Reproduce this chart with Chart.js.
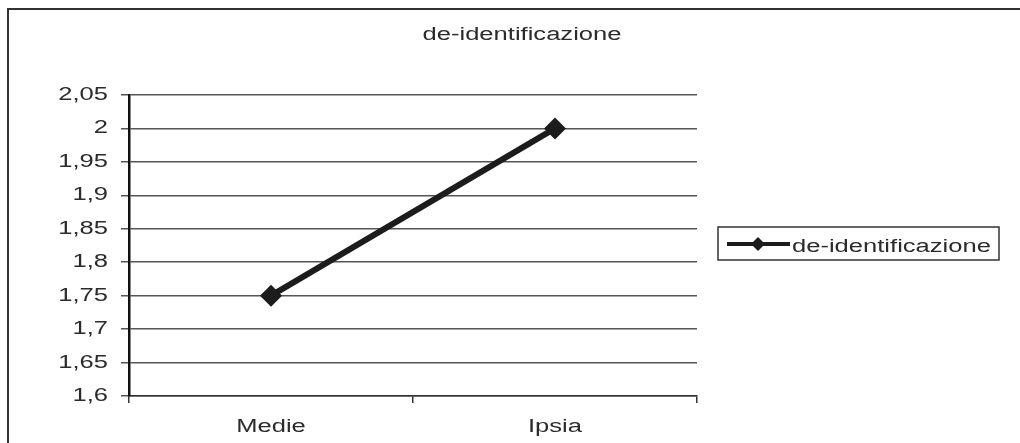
<!DOCTYPE html>
<html>
<head>
<meta charset="utf-8">
<script src="https://cdn.jsdelivr.net/npm/chart.js@4/dist/chart.umd.min.js"></script>
<style>
  html, body { margin: 0; padding: 0; background: #fff; }
  #wrap { width: 1020px; height: 443px; }
</style>
</head>
<body>
<div id="wrap"><canvas id="c" width="1020" height="443"></canvas></div>
<script>
// Series data
const categories = ['Medie', 'Ipsia'];
const seriesName = 'de-identificazione';
const seriesValues = [1.75, 2.0];
const yTicks = [1.6, 1.65, 1.7, 1.75, 1.8, 1.85, 1.9, 1.95, 2, 2.05];

const FONT = '18px "Liberation Sans", Arial, sans-serif';
const TEXT = '#2b2b2b';
const WIDEN = 1.42;   // horizontal stretch of all lettering

const fmt = v => String(Math.round(v * 100) / 100).replace('.', ',');

// Text drawn wide, anchored at (x, baseline y)
function wideText(ctx, text, x, y, align) {
  ctx.save();
  ctx.translate(x, y);
  ctx.scale(WIDEN, 1);
  ctx.font = FONT;
  ctx.fillStyle = TEXT;
  ctx.textAlign = align;
  ctx.textBaseline = 'alphabetic';
  ctx.fillText(text, 0, 0);
  ctx.restore();
}

// Frame, title, axis lettering and legend
const decor = {
  id: 'decor',
  beforeDraw(chart) {
    const ctx = chart.ctx;
    ctx.save();
    ctx.fillStyle = '#fff';
    ctx.fillRect(0, 0, chart.width, chart.height);
    ctx.strokeStyle = '#333';
    ctx.lineWidth = 2;
    ctx.beginPath();
    ctx.moveTo(1020, 9);
    ctx.lineTo(8, 9);
    ctx.lineTo(8, 443);
    ctx.stroke();
    ctx.restore();
  },
  afterDraw(chart) {
    const ctx = chart.ctx;
    const ds = chart.data.datasets[0];
    const xs = chart.scales.x, ys = chart.scales.y;

    wideText(ctx, ds.label, 522, 40, 'center');

    ys.ticks.forEach(t => {
      wideText(ctx, fmt(t.value), 108, ys.getPixelForValue(t.value) + 5, 'right');
    });
    chart.data.labels.forEach((lab, i) => {
      wideText(ctx, lab, xs.getPixelForTick(i), 432, 'center');
    });

    // legend
    ctx.save();
    ctx.strokeStyle = '#333';
    ctx.lineWidth = 1.5;
    ctx.strokeRect(718, 227, 281, 33);
    ctx.strokeStyle = ds.borderColor;
    ctx.lineWidth = 4;
    ctx.beginPath();
    ctx.moveTo(727, 244);
    ctx.lineTo(790, 244);
    ctx.stroke();
    ctx.fillStyle = ds.borderColor;
    ctx.beginPath();
    ctx.moveTo(758, 237);
    ctx.lineTo(765, 244);
    ctx.lineTo(758, 251);
    ctx.lineTo(751, 244);
    ctx.closePath();
    ctx.fill();
    ctx.restore();
    wideText(ctx, ds.label, 792, 252, 'left');
  }
};

new Chart(document.getElementById('c'), {
  type: 'line',
  data: {
    labels: categories,
    datasets: [{
      label: seriesName,
      data: seriesValues,
      borderColor: '#1c1c1c',
      backgroundColor: '#1c1c1c',
      borderWidth: 6,
      pointStyle: 'rectRot',
      pointRadius: 11,
      pointHoverRadius: 11,
      pointBorderWidth: 0,
      tension: 0
    }]
  },
  options: {
    responsive: false,
    animation: false,
    events: [],
    layout: { padding: { left: 0, right: 323, top: 95, bottom: 0 } },
    plugins: {
      legend: { display: false },
      title: { display: false },
      tooltip: { enabled: false }
    },
    scales: {
      x: {
        offset: true,
        grid: {
          offset: true,
          display: true,
          drawOnChartArea: false,
          drawTicks: true,
          tickLength: 7,
          color: '#333',
          lineWidth: 1.5
        },
        border: { display: true, color: '#333', width: 1.5 },
        ticks: { display: false },
        afterFit(s) { s.height = 47; }
      },
      y: {
        min: 1.6,
        max: 2.05,
        afterBuildTicks(s) { s.ticks = yTicks.map(v => ({ value: v })); },
        grid: {
          color: '#555',
          lineWidth: 1.5,
          tickLength: 8,
          drawTicks: true
        },
        border: { display: true, color: '#111', width: 2.5 },
        ticks: { display: false },
        afterFit(s) { s.width = 129; }
      }
    }
  },
  plugins: [decor]
});
</script>
</body>
</html>
